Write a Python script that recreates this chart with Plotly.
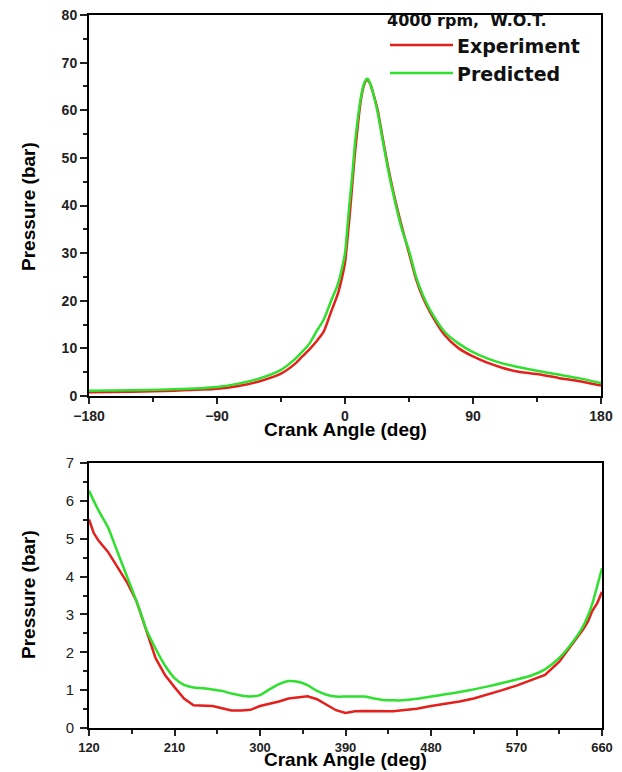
import plotly.graph_objects as go

# ---------------- data: compression/expansion (top panel) ----------------
angle_top = [-180, -150, -120, -90, -75, -60, -45, -35, -30, -25, -20, -15, -10, -5, -2,
             0, 3, 5, 7, 10, 11.5, 13, 14.5, 15.5, 16.5, 18, 20, 23, 26, 30, 35, 40, 45, 50,
             55, 60, 70, 80, 90, 100, 110, 120, 135, 150, 165, 180]
pred_top = [1.1, 1.2, 1.4, 1.9, 2.6, 3.7, 5.5, 7.8, 9.3, 11.0, 13.6, 16.0, 19.8, 23.5, 27.0,
            30.0, 40.0, 46.0, 53.0, 60.5, 63.3, 65.2, 66.3, 66.6, 66.4, 65.4, 63.3, 59.5,
            54.5, 48.0, 41.0, 35.0, 30.5, 25.0, 21.0, 18.0, 13.5, 11.0, 9.2, 7.9, 6.9, 6.2,
            5.3, 4.5, 3.7, 2.7]
exp_top = [0.8, 0.9, 1.1, 1.5, 2.1, 3.1, 4.7, 6.8, 8.3, 9.8, 11.5, 13.5, 17.5, 21.5, 25.0,
           28.0, 37.0, 44.0, 51.0, 59.5, 62.8, 64.9, 66.1, 66.4, 66.2, 65.3, 63.4, 60.0,
           55.0, 48.5, 41.5, 35.5, 30.0, 24.5, 20.5, 17.5, 12.8, 10.0, 8.3, 7.0, 6.0, 5.2,
           4.6, 3.8, 3.1, 2.2]

# ---------------- data: gas exchange (bottom panel) ----------------
angle_bot = [120, 125, 130, 140, 150, 160, 170, 177, 180, 190, 200, 210, 220, 230, 240, 250,
             260, 270, 280, 290, 300, 310, 320, 330, 340, 350, 360, 370, 380, 390, 400, 410,
             420, 430, 440, 450, 465, 480, 495, 510, 525, 540, 555, 570, 585, 600, 615, 630,
             640, 645, 650, 655, 660]
pred_bot = [6.27, 6.0, 5.75, 5.3, 4.65, 4.0, 3.35, 2.85, 2.62, 2.1, 1.65, 1.32, 1.14, 1.07,
            1.05, 1.02, 0.98, 0.91, 0.86, 0.83, 0.87, 1.02, 1.16, 1.24, 1.22, 1.13, 0.98, 0.88,
            0.83, 0.83, 0.83, 0.83, 0.78, 0.74, 0.73, 0.73, 0.77, 0.83, 0.89, 0.95, 1.02, 1.10,
            1.19, 1.28, 1.38, 1.55, 1.85, 2.30, 2.68, 2.95, 3.30, 3.75, 4.22]
exp_bot = [5.51, 5.15, 4.95, 4.65, 4.25, 3.85, 3.35, 2.85, 2.60, 1.85, 1.40, 1.08, 0.78, 0.60,
           0.58, 0.58, 0.52, 0.46, 0.46, 0.48, 0.58, 0.63, 0.70, 0.78, 0.82, 0.84, 0.76, 0.62,
           0.47, 0.40, 0.44, 0.45, 0.45, 0.46, 0.44, 0.47, 0.51, 0.58, 0.64, 0.70, 0.78, 0.88,
           1.00, 1.12, 1.25, 1.40, 1.75, 2.25, 2.60, 2.80, 3.10, 3.30, 3.60]

top_xticks = [-180, -90, 0, 90, 180]
bot_xticks = [120, 210, 300, 390, 480, 570, 660]

RED = "#e3201b"
GREEN = "#2fe02f"
W, H = 622, 772
FONT = "Liberation Sans, Arial, sans-serif"


def px(x):
    return x / W


def py(y):
    return 1 - y / H


fig = go.Figure()
fig.add_trace(go.Scatter(x=angle_top, y=exp_top, mode="lines", name="Experiment",
                         line=dict(color=RED, width=2.5, shape="spline", smoothing=0.6),
                         xaxis="x", yaxis="y"))
fig.add_trace(go.Scatter(x=angle_top, y=pred_top, mode="lines", name="Predicted",
                         line=dict(color=GREEN, width=2.5, shape="spline", smoothing=0.6),
                         xaxis="x", yaxis="y"))
fig.add_trace(go.Scatter(x=angle_bot, y=exp_bot, mode="lines", name="Experiment",
                         line=dict(color=RED, width=2.5), xaxis="x2", yaxis="y2"))
fig.add_trace(go.Scatter(x=angle_bot, y=pred_bot, mode="lines", name="Predicted",
                         line=dict(color=GREEN, width=2.5, shape="spline", smoothing=0.6),
                         xaxis="x2", yaxis="y2"))

AX = dict(showline=True, linecolor="black", linewidth=2, mirror=True, showgrid=False,
          zeroline=False, ticks="outside", tickcolor="#222", tickwidth=2, ticklen=7,
          automargin=False, ticklabeloverflow="allow")
MINOR = dict(ticks="outside", ticklen=4, tickwidth=2, tickcolor="#222")
BOLD = dict(family=FONT, size=14, color="#222", weight="bold")

fig.update_layout(
    width=W, height=H, plot_bgcolor="white", paper_bgcolor="white",
    margin=dict(l=0, r=0, t=0, b=0, autoexpand=False), showlegend=False,
    xaxis=dict(AX, domain=[px(89), px(601)], range=[-180, 180], tickvals=top_xticks,
               tickfont=BOLD, anchor="y", ticklen=6, minor=dict(MINOR, dtick=45, tick0=-180)),
    yaxis=dict(AX, domain=[py(396), py(15)], range=[0, 80], dtick=10,
               tickfont=BOLD, anchor="x", minor=dict(MINOR, dtick=5)),
    xaxis2=dict(AX, domain=[px(89), px(602)], range=[120, 660], tickvals=bot_xticks,
                tickfont=dict(BOLD, size=13), anchor="y2", ticklen=6,
                minor=dict(MINOR, dtick=45, tick0=120)),
    yaxis2=dict(AX, domain=[py(728), py(463)], range=[0, 7], dtick=1,
                tickfont=dict(family=FONT, size=15, color="#222"), anchor="x2",
                ticklabelstandoff=3, minor=dict(MINOR, dtick=0.5)),
)

TITLE = dict(family=FONT, size=19, color="black", weight="bold")
ann = []
# axis titles
ann.append(dict(text="Crank Angle (deg)", x=px(345), y=py(429), xref="paper",
                yref="paper", showarrow=False, font=TITLE, xanchor="center", yanchor="middle"))
ann.append(dict(text="Crank Angle (deg)", x=px(345), y=py(759), xref="paper",
                yref="paper", showarrow=False, font=TITLE, xanchor="center", yanchor="middle"))
ann.append(dict(text="Pressure (bar)", x=px(28), y=py(207), xref="paper",
                yref="paper", showarrow=False, font=TITLE, textangle=-90,
                xanchor="center", yanchor="middle"))
ann.append(dict(text="Pressure (bar)", x=px(28), y=py(595), xref="paper",
                yref="paper", showarrow=False, font=TITLE, textangle=-90,
                xanchor="center", yanchor="middle"))

# legend (drawn manually to match the reference's long line samples)
LEG = dict(family="DejaVu Sans, sans-serif", size=19, color="#111", weight="bold")
ann.append(dict(text="4000 rpm,\u00a0 W.O.T.", x=px(385), y=py(21), xref="paper",
                yref="paper", showarrow=False, xanchor="left", yanchor="middle",
                font=dict(family="DejaVu Sans, sans-serif", size=16, color="#111",
                          weight="bold")))
ann.append(dict(text="Experiment", x=px(455), y=py(46), xref="paper",
                yref="paper", showarrow=False, xanchor="left", yanchor="middle", font=LEG))
ann.append(dict(text="Predicted", x=px(455), y=py(74), xref="paper",
                yref="paper", showarrow=False, xanchor="left", yanchor="middle", font=LEG))
shapes = [
    dict(type="line", xref="paper", yref="paper", x0=px(390), x1=px(453),
         y0=py(45), y1=py(45), line=dict(color=RED, width=2.5)),
    dict(type="line", xref="paper", yref="paper", x0=px(390), x1=px(453),
         y0=py(73), y1=py(73), line=dict(color=GREEN, width=2.5)),
]
fig.update_layout(annotations=ann, shapes=shapes)

# remove the default page margin so the figure fills the window exactly
fig.write_html("out.html", config={"displayModeBar": False},
               post_script="document.body.style.margin='0';"
                           "document.body.style.overflow='hidden';")
